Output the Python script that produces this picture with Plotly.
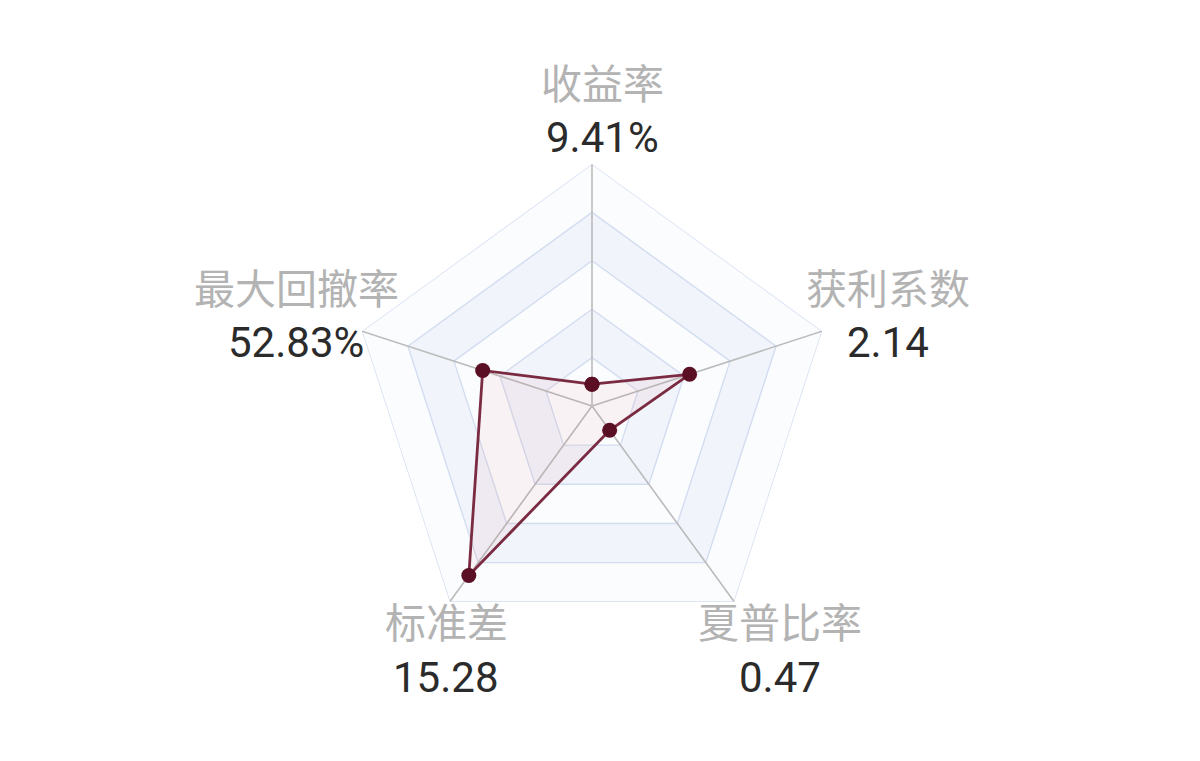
import plotly.graph_objects as go

# indicator names (clockwise from top) and their displayed values
indicators = ["收益率", "获利系数", "夏普比率", "标准差", "最大回撤率"]
value_text = ["9.41%", "2.14", "0.47", "15.28", "52.83%"]
# position of each point along its axis (fraction of the axis max)
scaled = [0.090, 0.424, 0.124, 0.866, 0.475]

split_levels = [0.2, 0.4, 0.6, 0.8, 1.0]
band_colors = ["#fbfcfe", "#f1f4fb", "#fbfcfe", "#f1f4fb", "#fbfcfe"]

# label centre x, name line y, value line y (pixels from top-left)
label_pos = {
    "收益率": (594, 73, 130),
    "获利系数": (880, 278, 335),
    "夏普比率": (772, 612, 669),
    "标准差": (438, 612, 669),
    "最大回撤率": (288, 278, 335),
}

W, H = 1200, 761
closed = indicators + [indicators[0]]

fig = go.Figure()

# split areas, outer first so the inner ones sit on top
for lvl, col in reversed(list(zip(split_levels, band_colors))):
    fig.add_trace(go.Scatterpolar(
        r=[lvl] * len(closed), theta=closed, mode='lines',
        fill='toself', fillcolor=col, line=dict(width=0),
        hoverinfo='skip', showlegend=False))

# split lines
for lvl in split_levels:
    fig.add_trace(go.Scatterpolar(
        r=[lvl] * len(closed), theta=closed, mode='lines',
        line=dict(color='#d3ddf0', width=1.4),
        hoverinfo='skip', showlegend=False))

# axis lines
for name in indicators:
    fig.add_trace(go.Scatterpolar(
        r=[0, 1], theta=[name, name], mode='lines',
        line=dict(color='#bbbbbb', width=1.6),
        hoverinfo='skip', showlegend=False))

# the data
fig.add_trace(go.Scatterpolar(
    r=scaled + [scaled[0]], theta=closed,
    mode='lines+markers', fill='toself',
    fillcolor='rgba(220, 90, 90, 0.06)',
    line=dict(color='#7a2b42', width=2.8),
    marker=dict(size=15, color='#5a0f24'),
    showlegend=False))

for name, val in zip(indicators, value_text):
    px, ny, vy = label_pos[name]
    fig.add_annotation(
        x=px / W, y=1 - ny / H, xref='paper', yref='paper',
        xanchor='center', yanchor='middle', showarrow=False,
        text=name, font=dict(size=41, color='#b3b3b3', family='Noto Sans CJK SC'))
    fig.add_annotation(
        x=px / W, y=1 - vy / H, xref='paper', yref='paper',
        xanchor='center', yanchor='middle', showarrow=False,
        text=val, font=dict(size=42, color='#2b2b2b', family='Roboto'))

cx, cy, R = 584, 398, 242
fig.update_layout(
    width=W, height=H,
    margin=dict(l=0, r=0, t=0, b=0),
    paper_bgcolor='white', plot_bgcolor='white',
    polar=dict(
        domain=dict(x=[(cx - R) / W, (cx + R) / W], y=[1 - (cy + R) / H, 1 - (cy - R) / H]),
        gridshape='linear', bgcolor='rgba(0,0,0,0)',
        angularaxis=dict(direction='clockwise', rotation=90, showgrid=False,
                         showline=False, showticklabels=False, ticks=''),
        radialaxis=dict(range=[0, 1], visible=False, showgrid=False),
    ),
    font=dict(family='Noto Sans CJK SC'),
)

fig.write_html("out.html")
